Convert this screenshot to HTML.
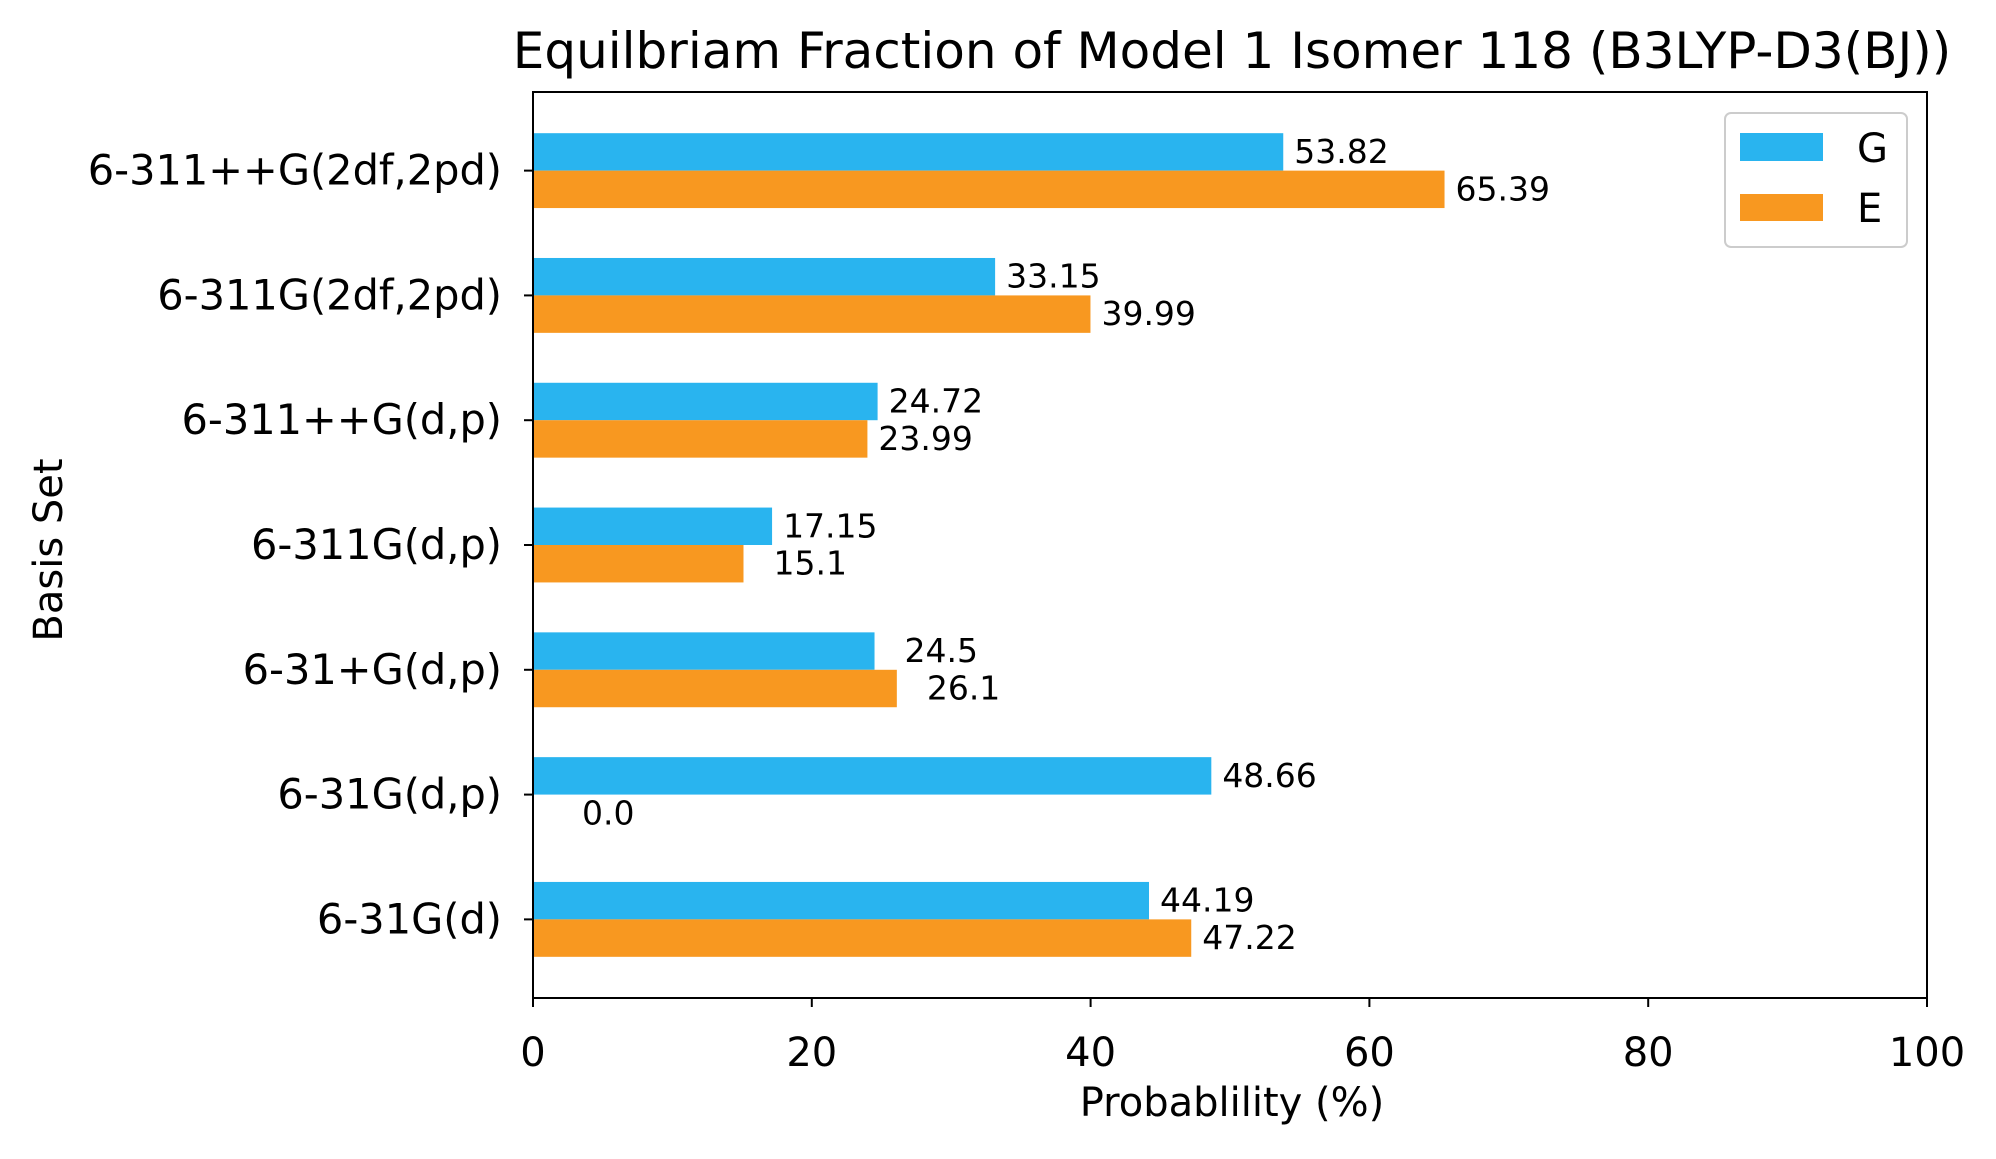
<!DOCTYPE html>
<html><head><meta charset="utf-8"><style>
body{margin:0;background:#fff}
svg text{font-family:"DejaVu Sans","Liberation Sans",sans-serif;fill:#000}
</style></head><body>
<svg width="1996" height="1154" viewBox="0 0 1996 1154" xmlns="http://www.w3.org/2000/svg">
<text x="1232" y="68" font-size="50" text-anchor="middle">Equilbriam Fraction of Model 1 Isomer 118 (B3LYP-D3(BJ))</text>
<g id="bars"></g>
<g id="axes"></g>
<text x="1232" y="1116" font-size="40" text-anchor="middle">Probablility (%)</text>
<text transform="translate(62,550) rotate(-90)" font-size="40" text-anchor="middle">Basis Set</text>
<g>
<rect x="1725" y="113" width="182" height="134" rx="6" fill="#fff" stroke="#ccc" stroke-width="2"/>
<rect x="1740" y="133" width="83" height="28" fill="#29b4ef"/>
<text x="1857" y="162" font-size="40">G</text>
<rect x="1740" y="194" width="83" height="27" fill="#f89820"/>
<text x="1857" y="222" font-size="40">E</text>
</g>
</svg>
<script>
const categories=["6-31G(d)","6-31G(d,p)","6-31+G(d,p)","6-311G(d,p)","6-311++G(d,p)","6-311G(2df,2pd)","6-311++G(2df,2pd)"];
const gValues=[44.19,48.66,24.5,17.15,24.72,33.15,53.82];
const eValues=[47.22,0.0,26.1,15.1,23.99,39.99,65.39];
const xTicks=[0,20,40,60,80,100];
const L=533,R=1927,T=92,B=998;
const x=v=>L+(v/100)*(R-L);
const yMin=-0.63,yMax=6.63;
const y=i=>T+(yMax-i)*(B-T)/(yMax-yMin);
const unit=(B-T)/(yMax-yMin);
const NS="http://www.w3.org/2000/svg";
const bars=document.getElementById('bars'),axes=document.getElementById('axes');
function mk(tag,attrs,parent){const e=document.createElementNS(NS,tag);for(const k in attrs)e.setAttribute(k,attrs[k]);parent.appendChild(e);return e;}
const h=0.3*unit;
categories.forEach((c,i)=>{
  const cy=y(i);
  [[gValues[i],cy-h,'#29b4ef','g'],[eValues[i],cy,'#f89820','e']].forEach(([v,top,col,s])=>{
    const r=mk('rect',{x:L,y:top,width:x(v)-L,height:h,fill:col},bars);
    
    
    const str=String(v.toFixed(v===0?1:(Math.round(v*100)%10===0?1:2)));
    const t=mk('text',{x:x(v)+11+(5-str.length)*19,y:top+h/2+11,'font-size':'33'},bars);
    t.textContent=str;
    
    
  });
  mk('line',{x1:L-9,x2:L,y1:cy,y2:cy,stroke:'#000','stroke-width':2},axes);
  const tl=mk('text',{x:L-31,y:cy+14,'font-size':'41.5','text-anchor':'end'},axes);
  tl.textContent=c;
  
  
});
xTicks.forEach(v=>{
  mk('line',{x1:x(v),x2:x(v),y1:B,y2:B+9,stroke:'#000','stroke-width':2},axes);
  const t=mk('text',{x:x(v),y:B+68,'font-size':'40','text-anchor':'middle'},axes);
  t.textContent=v;
  
  
});
const fr=mk('rect',{x:L,y:T,width:R-L,height:B-T,fill:'none',stroke:'#000','stroke-width':2},axes);


</script>
</body></html>
